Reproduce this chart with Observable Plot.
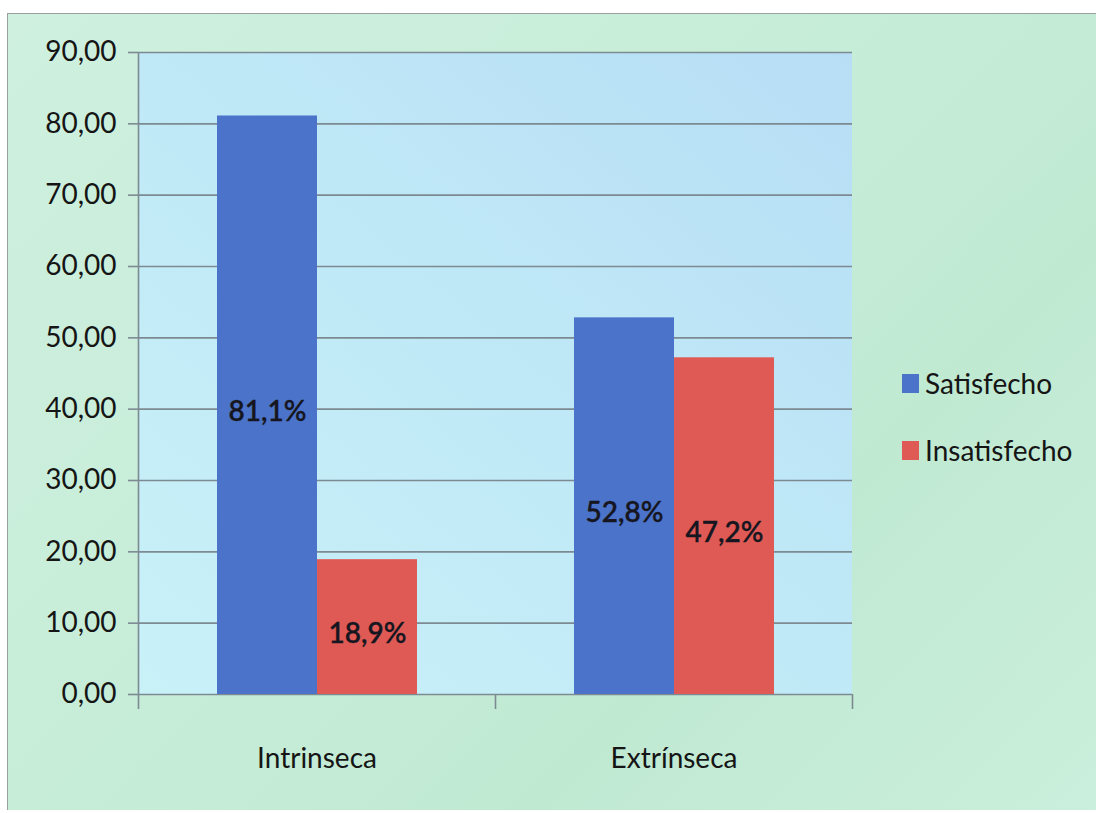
<!DOCTYPE html>
<html>
<head>
<meta charset="utf-8">
<script src="https://cdn.jsdelivr.net/npm/d3@7"></script>
<script src="https://cdn.jsdelivr.net/npm/@observablehq/plot@0.6"></script>
<style>
  html, body { margin: 0; padding: 0; background: #ffffff; }
  #page { position: relative; width: 1096px; height: 813px; overflow: hidden; font-family: Lato, "Open Sans", sans-serif; }
  #panel {
    position: absolute; left: 7px; top: 13px; right: 0; bottom: 3px;
    border-left: 1.5px solid #9aa0a0; border-top: 1.5px solid #9aa0a0;
    background: linear-gradient(135deg, #cff0df 0%, #c6edd8 45%, #c0e9d2 70%, #caefdc 100%);
  }
  #plotbg { position: absolute; background: linear-gradient(40deg, #c8f1f8 0%, #c0e9f7 50%, #b7def5 100%); }
  #chart { position: absolute; left: 0; top: 0; }
  #legend { position: absolute; left: 902px; top: 366px; }
  .item { display: flex; align-items: center; height: 34px; margin-bottom: 33px; font-size: 28px; color: #151515; }
  .swatch { width: 17px; height: 19px; margin-right: 6px; }
</style>
</head>
<body>
<div id="page">
  <div id="panel"></div>
  <div id="plotbg"></div>
  <div id="chart"></div>
  <div id="legend"></div>
</div>
<script>
// Job-satisfaction dimensions and share of respondents in each group
const categories = ["Intrinseca", "Extrínseca"];
const series = ["Satisfecho", "Insatisfecho"];
const satisfecho = [81.1, 52.8];
const insatisfecho = [18.9, 47.2];
const yTicks = [0, 10, 20, 30, 40, 50, 60, 70, 80, 90];
const colors = ["#4a73c9", "#df5a55"];

const data = categories.flatMap((c, i) => [
  {category: c, series: series[0], value: satisfecho[i]},
  {category: c, series: series[1], value: insatisfecho[i]}
]);

const W = 1096, H = 813;
const mL = 138, mR = 244, mT = 52, mB = 119;
const step = (W - mL - mR) / categories.length;
const axisColor = "#7d8a92";
const tickLen = 15;

const comma = (v, d) => v.toFixed(d).replace(".", ",");

// plot-area background sits behind the transparent svg
Object.assign(document.getElementById("plotbg").style, {
  left: mL + "px", top: mT + "px", width: (W - mL - mR) + "px", height: (H - mT - mB) + "px"
});

const chart = Plot.plot({
  width: W, height: H,
  marginLeft: mL, marginRight: mR, marginTop: mT, marginBottom: mB,
  style: {background: "transparent", fontFamily: "Lato, 'Open Sans', sans-serif", fontSize: "28px", color: "#151515", overflow: "visible"},
  fx: {domain: categories, padding: 0, label: null},
  x: {domain: series, paddingInner: 0, paddingOuter: 0.77, axis: null},
  y: {domain: [0, 90], label: null},
  color: {domain: series, range: colors},
  marks: [
    Plot.gridY(yTicks, {stroke: axisColor, strokeOpacity: 1, strokeWidth: 1.6}),
    Plot.barY(data, {fx: "category", x: "series", y: "value", fill: "series"}),
    Plot.text(data, {
      fx: "category", x: "series", y: d => d.value / 2,
      text: d => comma(d.value, 1) + "%",
      dy: 7, fill: "#161620", fontSize: 28, fontWeight: 600,
      stroke: "#161620", strokeWidth: 0.3
    }),
    // vertical axis line on the first panel only
    Plot.ruleX([categories[0]], {fx: d => d, x: null, y1: () => 0, y2: () => 90, dx: -step / 2, stroke: axisColor, strokeWidth: 1.6}),
    // category boundary ticks under the baseline
    Plot.ruleX(categories, {fx: d => d, x: null, y1: () => 0, y2: () => 0, insetBottom: -tickLen, dx: -step / 2, stroke: axisColor, strokeWidth: 1.6}),
    Plot.ruleX([categories[categories.length - 1]], {fx: d => d, x: null, y1: () => 0, y2: () => 0, insetBottom: -tickLen, dx: step / 2, stroke: axisColor, strokeWidth: 1.6}),
    Plot.axisY(yTicks, {tickSize: 10, tickPadding: 12, stroke: axisColor, strokeWidth: 1.6, tickFormat: v => comma(v, 2), fontSize: 28, label: null}),
    Plot.axisFx({anchor: "bottom", tickSize: 0, tickPadding: 54, fontSize: 28, label: null})
  ]
});
document.getElementById("chart").append(chart);

// legend built from the same series and colours
const legend = document.getElementById("legend");
series.forEach((s, i) => {
  const item = document.createElement("div");
  item.className = "item";
  const sw = document.createElement("span");
  sw.className = "swatch";
  sw.style.background = colors[i];
  const label = document.createElement("span");
  label.textContent = s;
  item.append(sw, label);
  legend.append(item);
});
</script>
</body>
</html>
